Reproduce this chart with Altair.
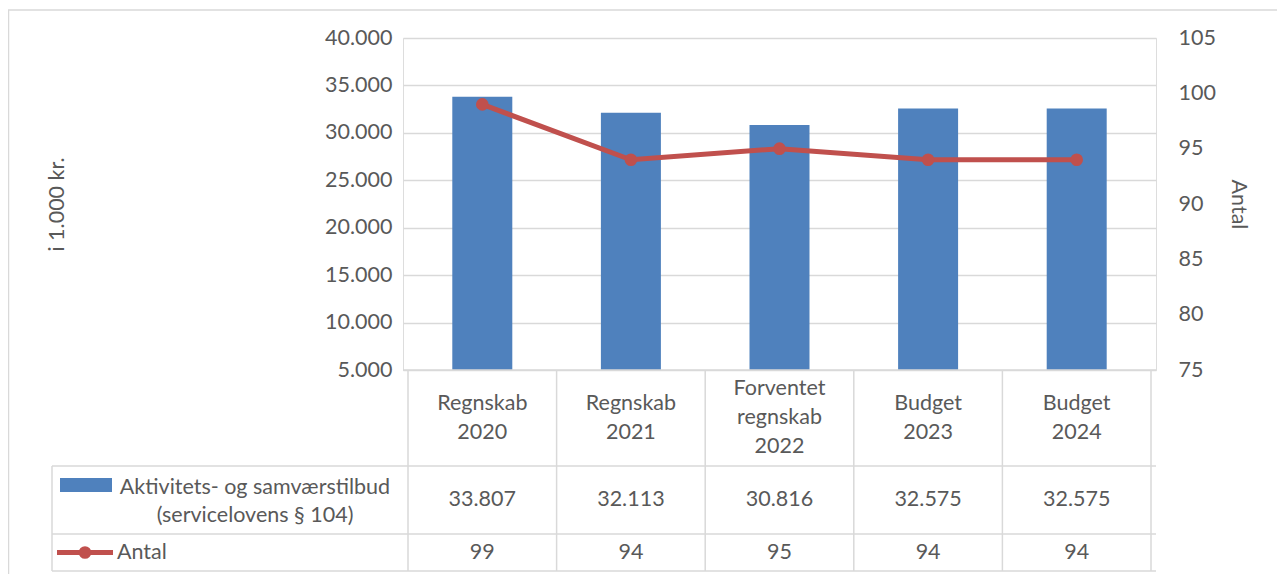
import altair as alt
import pandas as pd

# ---------------- data ----------------
categories = ["Regnskab 2020", "Regnskab 2021", "Forventet regnskab 2022", "Budget 2023", "Budget 2024"]
header_labels = ["Regnskab\n2020", "Regnskab\n2021", "Forventet\nregnskab\n2022", "Budget\n2023", "Budget\n2024"]
aktivitet = [33807, 32113, 30816, 32575, 32575]
antal = [99, 94, 95, 94, 94]
series_kr = "Aktivitets- og samværstilbud\n(servicelovens § 104)"
series_antal = "Antal"
left_ticks = [5000, 10000, 15000, 20000, 25000, 30000, 35000, 40000]
right_ticks = [75, 80, 85, 90, 95, 100, 105]
left_title = "i 1.000 kr."
right_title = "Antal"

# ---------------- style ----------------
BLUE = "#4F81BD"
RED = "#C0504D"
GRID = "#D9D9D9"
TEXT = "#595959"
FONT = "Lato"
FS = 21.5
LH = 29
W, H = 753, 332

df = pd.DataFrame({
    "idx": list(range(len(categories))),
    "kategori": categories,
    "header": header_labels,
    "nlines": [len(h.split("\n")) for h in header_labels],
    "kr": aktivitet,
    "antal": antal,
})
bounds = pd.DataFrame({"b": [i - 0.5 for i in range(len(categories) + 1)]})
one = pd.DataFrame({"k": [0]})

x_scale = alt.Scale(domain=[-0.5, len(categories) - 0.5], nice=False, zero=False)
X = alt.X("idx:Q", scale=x_scale, axis=None)

bars = alt.Chart(df).mark_bar(size=60, color=BLUE).encode(
    x=X,
    y=alt.Y(
        "kr:Q",
        scale=alt.Scale(domain=[left_ticks[0], left_ticks[-1]], nice=False, zero=False),
        axis=alt.Axis(
            values=left_ticks,
            labelExpr="replace(format(datum.value, ','), ',', '.')",
            grid=True, gridColor=GRID, gridWidth=1.3,
            domain=False, ticks=False, labelPadding=11,
            labelFont=FONT, labelFontSize=FS, labelColor=TEXT,
            title=left_title, titleFont=FONT, titleFontSize=FS, titleColor=TEXT,
            titleFontWeight="normal", titleAngle=-90, titleX=-346, titleY=H / 2,
            titleAlign="center", titleBaseline="middle",
        ),
    ),
    y2=alt.datum(left_ticks[0]),
)

y_right = alt.Scale(domain=[right_ticks[0], right_ticks[-1]], nice=False, zero=False)
line = alt.Chart(df).mark_line(color=RED, strokeWidth=5).encode(
    x=X,
    y=alt.Y(
        "antal:Q",
        scale=y_right,
        axis=alt.Axis(
            orient="right", values=right_ticks, grid=False, domain=False, ticks=False,
            labelPadding=22, labelFont=FONT, labelFontSize=FS, labelColor=TEXT,
            title=right_title, titleFont=FONT, titleFontSize=FS, titleColor=TEXT,
            titleFontWeight="normal", titleAngle=90, titleX=81, titleY=H / 2,
            titleAlign="center", titleBaseline="middle",
        ),
    ),
)
points = alt.Chart(df).mark_point(filled=True, size=160, color=RED, opacity=1).encode(
    x=X, y=alt.Y("antal:Q", scale=y_right)
)
right_layer = alt.layer(line, points)

# ---------------- data table ----------------
row_top, row1, row2, row_bot = H, H + 96, H + 164, H + 201
left_edge = -351

hlines = [
    alt.Chart(one).mark_rule(color=GRID, strokeWidth=1.5).encode(
        x=alt.value(x0), x2=alt.value(W), y=alt.value(yy)
    )
    for x0, yy in [(0, row_top), (left_edge, row1), (left_edge, row2), (left_edge, row_bot)]
]
vlines = alt.Chart(bounds).mark_rule(color=GRID, strokeWidth=1.5).encode(
    x=alt.X("b:Q", scale=x_scale, axis=None), y=alt.value(row_top), y2=alt.value(row_bot)
)
vleft = alt.Chart(one).mark_rule(color=GRID, strokeWidth=1.5).encode(
    x=alt.value(left_edge), y=alt.value(row1), y2=alt.value(row_bot)
)

txt = dict(font=FONT, fontSize=FS, color=TEXT, baseline="middle", lineBreak="\n", lineHeight=LH)
headers = [
    alt.Chart(df).transform_filter(f"datum.nlines == {n}").mark_text(
        dy=-(n - 1) * LH / 2, **txt
    ).encode(x=X, y=alt.value((row_top + row1) / 2), text="header:N")
    for n in sorted(set(df["nlines"]))
]
kr_vals = alt.Chart(df).transform_calculate(
    lab="replace(format(datum.kr, ','), ',', '.')"
).mark_text(**txt).encode(x=X, y=alt.value((row1 + row2) / 2), text="lab:N")
antal_vals = alt.Chart(df).mark_text(**txt).encode(
    x=X, y=alt.value((row2 + row_bot) / 2), text="antal:Q"
)

n_kr = len(series_kr.split("\n"))
lab_kr = alt.Chart(one).mark_text(align="center", dy=-(n_kr - 1) * 28 / 2, **{**txt, "lineHeight": 28}).encode(
    x=alt.value(-148), y=alt.value((row1 + row2) / 2 + 2), text=alt.value(series_kr)
)
lab_antal = alt.Chart(one).mark_text(align="left", **txt).encode(
    x=alt.value(-286), y=alt.value((row2 + row_bot) / 2), text=alt.value(series_antal)
)
sw_blue = alt.Chart(one).mark_rect(color=BLUE).encode(
    x=alt.value(-343), x2=alt.value(-291), y=alt.value(row1 + 12), y2=alt.value(row1 + 26)
)
sw_line = alt.Chart(one).mark_rule(color=RED, strokeWidth=5).encode(
    x=alt.value(-346), x2=alt.value(-290), y=alt.value((row2 + row_bot) / 2)
)
sw_dot = alt.Chart(one).mark_point(filled=True, size=160, color=RED, opacity=1).encode(
    x=alt.value(-318), y=alt.value((row2 + row_bot) / 2)
)
frame = alt.Chart(one).mark_rect(fillOpacity=0, stroke=GRID, strokeWidth=1.5).encode(
    x=alt.value(-394.5), y=alt.value(-28), x2=alt.value(W + 300), y2=alt.value(H + 400)
)

chart = alt.layer(
    frame, bars, right_layer, *hlines, vlines, vleft, *headers, kr_vals, antal_vals,
    lab_kr, lab_antal, sw_blue, sw_line, sw_dot,
).resolve_scale(y="independent").properties(
    width=W, height=H,
    autosize=alt.AutoSizeParams(type="none"),
    padding={"left": 395, "top": 30, "right": 121, "bottom": 204},
).configure_view(stroke=None).configure(background="white")

chart.save("out.html", embed_options={"renderer": "svg", "actions": False})
